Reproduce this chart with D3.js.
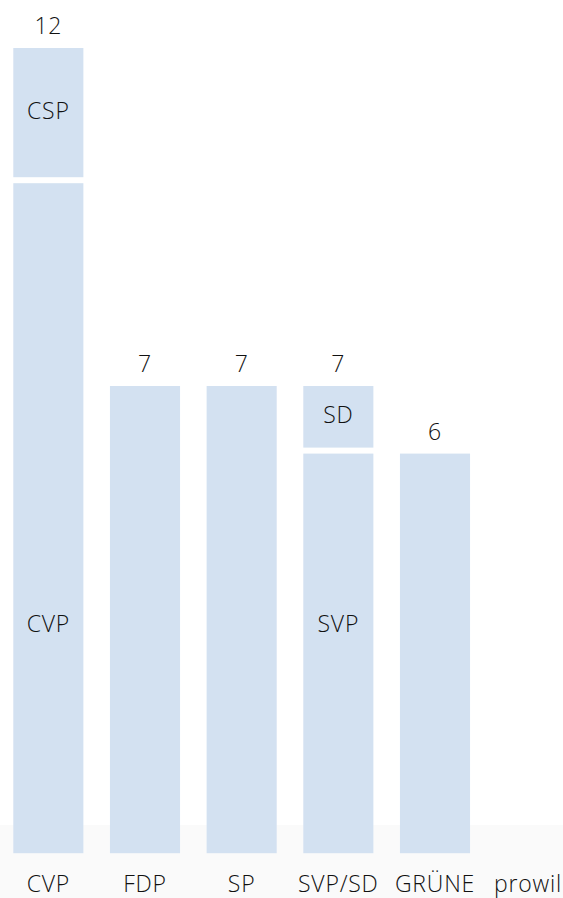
<!DOCTYPE html>
<html lang="de">
<head>
    <meta charset="UTF-8">
    <title>Sitzverteilung</title>
    <script src="https://d3js.org/d3.v7.min.js"></script>
    <style>
        body { margin: 0; background: #ffffff; }
        text { font-family: "Open Sans", "Noto Sans", sans-serif; font-weight: 300; fill: #111111; letter-spacing: 0.8px; }
    </style>
</head>
<body>
    <script>
        // parties and seats
        var categories = ["CVP", "FDP", "SP", "SVP/SD", "GRÜNE", "prowil"];
        var baseSeats  = [10, 7, 7, 6, 6, 0];
        var baseNames  = ["CVP", "", "", "SVP", "", ""];
        var topSeats   = [2, 0, 0, 1, 0, 0];
        var topNames   = ["CSP", "", "", "SD", "", ""];

        var width = 563, height = 898;
        var gap = 6;            // white gap under each segment
        var baseLabelAt = 3.5;  // base segment labels sit at a common height

        var svg = d3.select("body")
            .append("svg")
            .attr("width", width)
            .attr("height", height);

        // light grey footer band behind the category labels
        svg.append("rect")
            .attr("x", 0)
            .attr("y", 825)
            .attr("width", width)
            .attr("height", height - 825)
            .style("fill", "#fafafa");

        var x = d3.scaleBand()
            .domain(categories)
            .range([0, 580])
            .paddingInner(0.275)
            .paddingOuter(0.1375);

        var y = d3.scaleLinear()
            .domain([0, 12])
            .range([859.2, 48]);

        // build segments
        var segs = [];
        categories.forEach(function (c, i) {
            if (baseSeats[i] > 0) segs.push({cat: c, y0: 0, y1: baseSeats[i], name: baseNames[i], base: true});
            if (topSeats[i] > 0) segs.push({cat: c, y0: baseSeats[i], y1: baseSeats[i] + topSeats[i], name: topNames[i], base: false});
        });

        svg.selectAll("rect.seg")
            .data(segs)
            .enter()
            .append("rect")
            .attr("class", "seg")
            .attr("x", function (d) { return x(d.cat); })
            .attr("y", function (d) { return y(d.y1); })
            .attr("width", x.bandwidth())
            .attr("height", function (d) { return y(d.y0) - y(d.y1) - gap; })
            .style("fill", "#d3e1f1");

        svg.selectAll("text.seg")
            .data(segs.filter(function (d) { return d.name; }))
            .enter()
            .append("text")
            .attr("class", "seg")
            .attr("x", function (d) { return x(d.cat) + x.bandwidth() / 2; })
            .attr("y", function (d) {
                return d.base ? y(baseLabelAt) : y((d.y0 + d.y1) / 2) - gap;
            })
            .attr("text-anchor", "middle")
            .attr("dominant-baseline", "central")
            .style("font-size", "23px")
            .text(function (d) { return d.name; });

        // totals on top
        svg.selectAll("text.total")
            .data(categories.filter(function (c, i) { return baseSeats[i] + topSeats[i] > 0; }))
            .enter()
            .append("text")
            .attr("class", "total")
            .attr("x", function (c) { return x(c) + x.bandwidth() / 2; })
            .attr("y", function (c) {
                var i = categories.indexOf(c);
                return y(baseSeats[i] + topSeats[i]) - 14;
            })
            .attr("text-anchor", "middle")
            .style("font-size", "23px")
            .text(function (c) {
                var i = categories.indexOf(c);
                return baseSeats[i] + topSeats[i];
            });

        // category labels, the last one pulled back inside the page
        svg.selectAll("text.cat")
            .data(categories)
            .enter()
            .append("text")
            .attr("class", "cat")
            .attr("y", 892)
            .attr("text-anchor", "middle")
            .style("font-size", "23px")
            .text(function (c) { return c; })
            .attr("x", function (c) {
                var w = this.getComputedTextLength();
                return Math.min(x(c) + x.bandwidth() / 2, width - 1 - w / 2);
            });
    </script>
</body>
</html>
